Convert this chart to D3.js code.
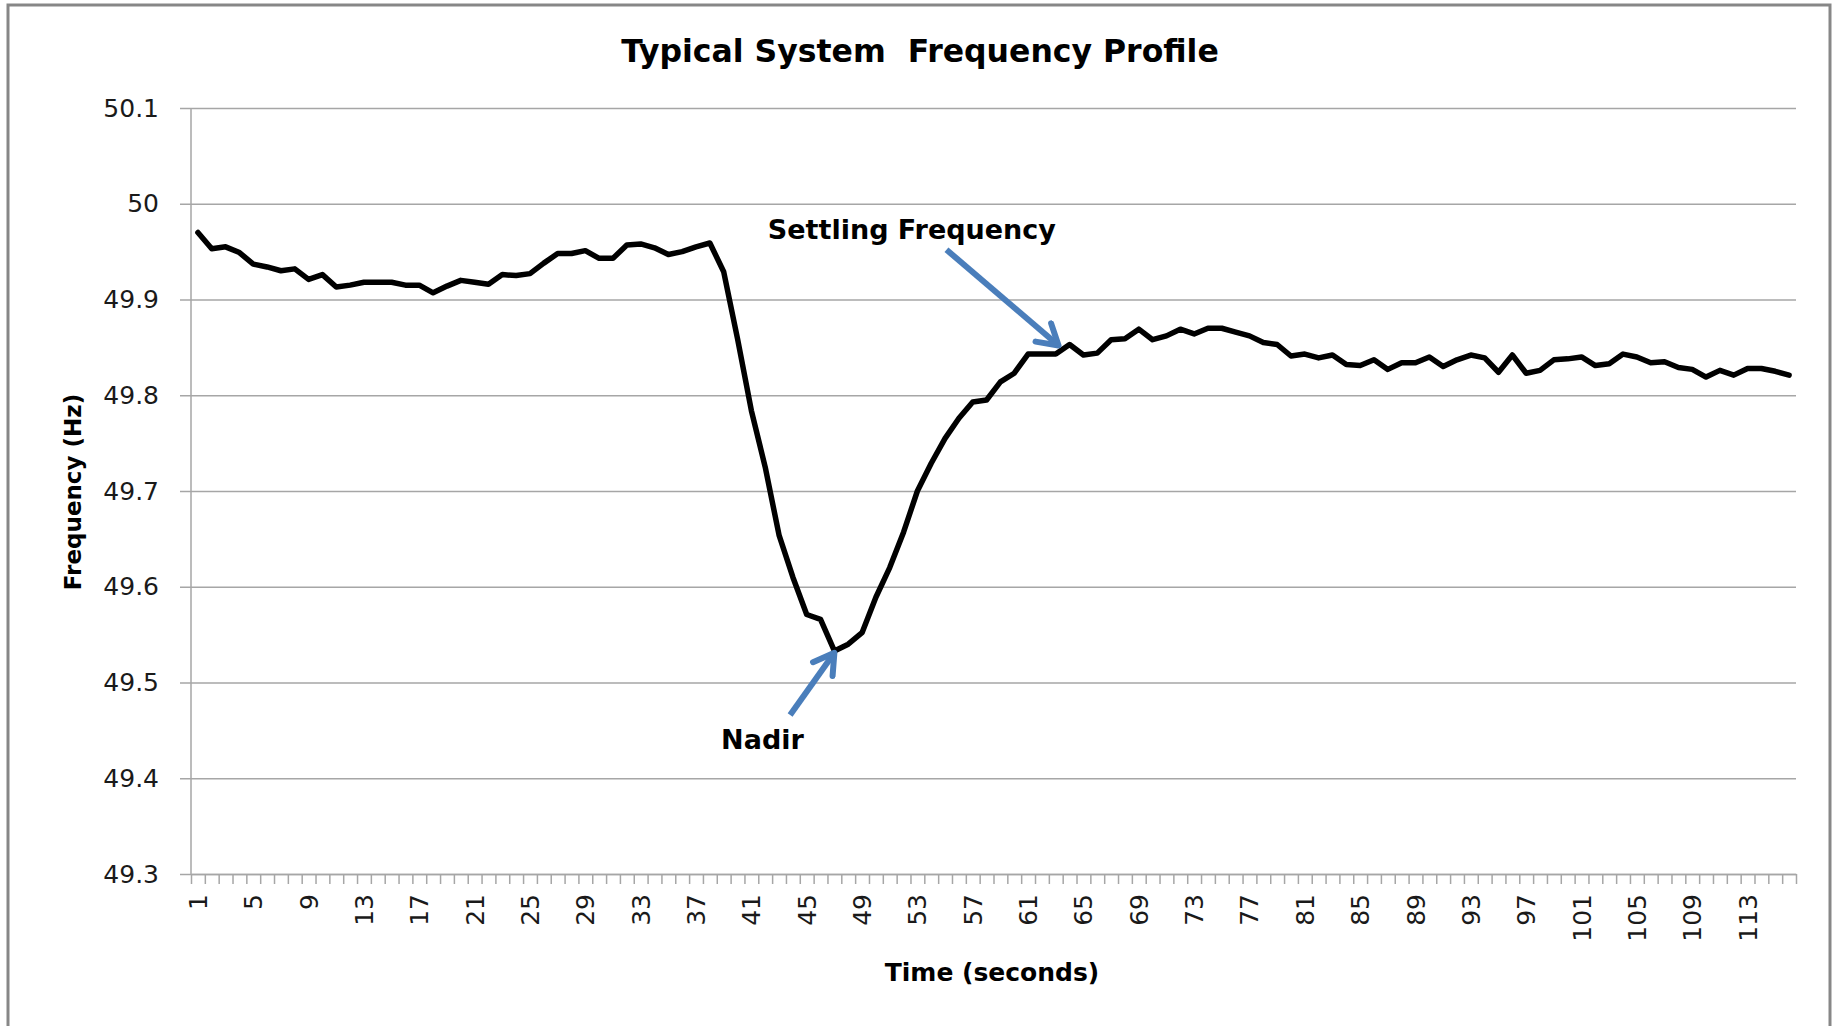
<!DOCTYPE html>
<html>
<head>
<meta charset="utf-8">
<script src="https://cdn.jsdelivr.net/npm/d3@7"></script>
<style>
  body { margin: 0; background: #fff; }
  text { font-family: "DejaVu Sans", sans-serif; fill: #000; }
</style>
</head>
<body>
<script>
// values
var frequency = [
  49.970, 49.953, 49.955, 49.949, 49.937, 49.934, 49.930, 49.932, 49.921, 49.926,
  49.913, 49.915, 49.918, 49.918, 49.918, 49.915, 49.915, 49.907, 49.914, 49.920,
  49.918, 49.916, 49.926, 49.925, 49.927, 49.938, 49.948, 49.948, 49.951, 49.943,
  49.943, 49.957, 49.958, 49.954, 49.947, 49.950, 49.955, 49.959, 49.929, 49.859,
  49.784, 49.725, 49.654, 49.610, 49.571, 49.566, 49.533, 49.540, 49.552, 49.589,
  49.620, 49.657, 49.700, 49.729, 49.755, 49.776, 49.793, 49.795, 49.814, 49.823,
  49.843, 49.843, 49.843, 49.853, 49.842, 49.844, 49.858, 49.859, 49.869, 49.858,
  49.862, 49.869, 49.864, 49.870, 49.870, 49.866, 49.862, 49.855, 49.853, 49.841,
  49.843, 49.839, 49.842, 49.832, 49.831, 49.837, 49.827, 49.834, 49.834, 49.840,
  49.830, 49.837, 49.842, 49.839, 49.824, 49.842, 49.823, 49.826, 49.837, 49.838,
  49.840, 49.831, 49.833, 49.843, 49.840, 49.834, 49.835, 49.829, 49.827, 49.819,
  49.826, 49.821, 49.828, 49.828, 49.825, 49.821
]
var seconds = frequency.map(function(d, i) { return i + 1 })
var xTickLabels = [1, 5, 9, 13, 17, 21, 25, 29, 33, 37, 41, 45, 49, 53, 57, 61,
  65, 69, 73, 77, 81, 85, 89, 93, 97, 101, 105, 109, 113]
var yTicks = [49.3, 49.4, 49.5, 49.6, 49.7, 49.8, 49.9, 50, 50.1]

// annotations: label spot and arrow tail/tip in data units (second, Hz)
var annotations = [
  { text: "Settling Frequency", at: [52.6, 49.973], from: [55.1, 49.952], to: [63.2, 49.852] },
  { text: "Nadir", at: [41.8, 49.441], from: [43.8, 49.466], to: [47.0, 49.531] }
]

var width = 1837, height = 1026
var margin = { left: 191, right: 41, top: 108, bottom: 152 }
var gray = "#a6a6a6", blue = "#4a7ebb"

var svg = d3.select("body").append("svg")
  .attr("width", width)
  .attr("height", height)

// outer chart frame
svg.append("rect")
  .attr("x", 8).attr("y", 5)
  .attr("width", 1822).attr("height", 1060)
  .style("fill", "#fff")
  .style("stroke", "#878787")
  .style("stroke-width", 3)

var x = d3.scaleBand()
  .domain(seconds)
  .range([margin.left, width - margin.right])
var xEdge = d3.scaleLinear()
  .domain([0.5, seconds.length + 0.5])
  .range([margin.left, width - margin.right])
var y = d3.scaleLinear()
  .domain([49.3, 50.1])
  .range([height - margin.bottom, margin.top])

// horizontal gridlines + y labels
var yAxis = svg.append("g")
  .attr("transform", "translate(" + margin.left + ",0)")
  .call(d3.axisLeft(y)
    .tickValues(yTicks)
    .tickFormat(d3.format("~g"))
    .tickSize(-(width - margin.left - margin.right))
    .tickSizeOuter(0)
    .tickPadding(32))
yAxis.select(".domain").remove()
yAxis.selectAll("line")
  .attr("x1", -11)
  .style("stroke", gray)
  .style("stroke-width", 1.5)
yAxis.selectAll("text")
  .style("font-size", "25px")
  .style("fill", "#1a1a1a")

svg.append("line")
  .attr("x1", margin.left).attr("x2", margin.left)
  .attr("y1", y(50.1)).attr("y2", y(49.3))
  .style("stroke", gray)
  .style("stroke-width", 1.5)

// x axis: tick marks between categories
var xTicks = svg.append("g")
  .attr("transform", "translate(0," + y(49.3) + ")")
  .call(d3.axisBottom(xEdge)
    .tickValues(d3.range(0.5, seconds.length + 1, 1))
    .tickFormat("")
    .tickSize(10)
    .tickSizeOuter(0))
xTicks.selectAll("line, path")
  .style("stroke", gray)
  .style("stroke-width", 1.5)

// x labels, rotated
var xLabels = svg.append("g")
  .attr("transform", "translate(0," + y(49.3) + ")")
  .call(d3.axisBottom(x)
    .tickValues(xTickLabels)
    .tickSize(0))
xLabels.select(".domain").remove()
xLabels.selectAll("text")
  .attr("transform", "rotate(-90)")
  .attr("x", -20)
  .attr("y", 0)
  .attr("dy", "0.36em")
  .style("text-anchor", "end")
  .style("font-size", "25px")
  .style("fill", "#1a1a1a")

// frequency line
var line = d3.line()
  .x(function(d, i) { return x(seconds[i]) + x.bandwidth() / 2 })
  .y(function(d) { return y(d) })
svg.append("path")
  .datum(frequency)
  .attr("d", line)
  .style("fill", "none")
  .style("stroke", "#000")
  .style("stroke-width", 5.5)
  .style("stroke-linejoin", "round")
  .style("stroke-linecap", "round")

// arrow marker
svg.append("defs").append("marker")
  .attr("id", "arrow")
  .attr("markerUnits", "userSpaceOnUse")
  .attr("viewBox", "0 0 30 30")
  .attr("markerWidth", 30)
  .attr("markerHeight", 30)
  .attr("refX", 26)
  .attr("refY", 15)
  .attr("orient", "auto")
  .append("path")
  .attr("d", "M6,3 L26,15 L6,27")
  .style("fill", "none")
  .style("stroke", blue)
  .style("stroke-width", 6)
  .style("stroke-linecap", "round")
  .style("stroke-linejoin", "round")

annotations.forEach(function(a) {
  svg.append("line")
    .attr("x1", xEdge(a.from[0])).attr("y1", y(a.from[1]))
    .attr("x2", xEdge(a.to[0])).attr("y2", y(a.to[1]))
    .attr("marker-end", "url(#arrow)")
    .style("stroke", blue)
    .style("stroke-width", 6)
  svg.append("text")
    .attr("x", xEdge(a.at[0]))
    .attr("y", y(a.at[1]))
    .attr("dy", "0.36em")
    .style("text-anchor", "middle")
    .style("font-weight", "bold")
    .style("font-size", "27px")
    .text(a.text)
})

// titles
svg.append("text")
  .attr("x", 920).attr("y", 62)
  .style("text-anchor", "middle")
  .style("font-weight", "bold")
  .style("font-size", "31.5px")
  .text("Typical System\u00a0 Frequency Profile")

svg.append("text")
  .attr("x", 992).attr("y", 972)
  .attr("dy", "0.36em")
  .style("text-anchor", "middle")
  .style("font-weight", "bold")
  .style("font-size", "25px")
  .text("Time (seconds)")

svg.append("text")
  .attr("transform", "translate(73,492) rotate(-90)")
  .attr("dy", "0.36em")
  .style("text-anchor", "middle")
  .style("font-weight", "bold")
  .style("font-size", "23px")
  .text("Frequency (Hz)")
</script>
</body>
</html>
